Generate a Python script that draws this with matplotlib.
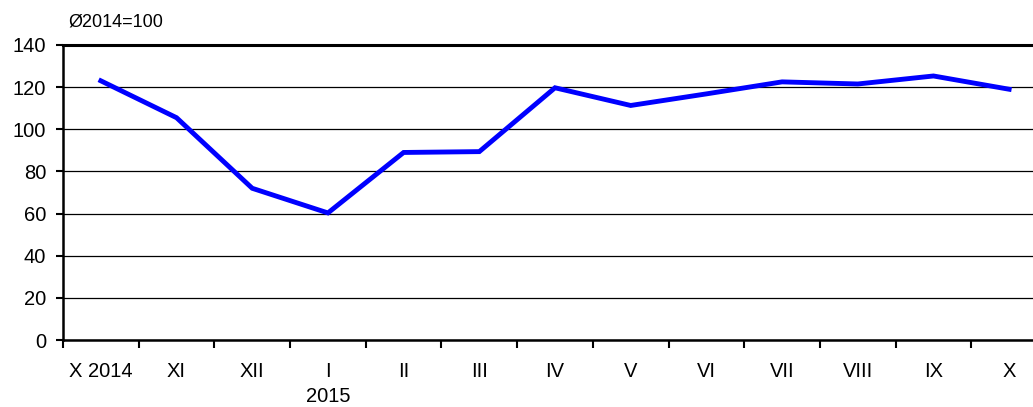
import numpy as np
import matplotlib.pyplot as plt

plt.rcParams['font.family'] = ['Liberation Sans', 'DejaVu Sans']

months = ['X 2014', 'XI', 'XII', 'I\n2015', 'II', 'III', 'IV', 'V', 'VI', 'VII', 'VIII', 'IX', 'X']
values = [123, 105.5, 72, 60.3, 89, 89.4, 119.7, 111.3, 116.8, 122.5, 121.5, 125.3, 119]

fig = plt.figure(figsize=(10.33, 4.07), dpi=100)
# axes run past the right edge of the picture, as in the original
ax = fig.add_axes([63 / 1033, 67 / 407, 984 / 1033, 295 / 407])

x = np.arange(len(months))
ax.plot(x, values, color='#0000ff', lw=3.5, solid_joinstyle='miter', zorder=3)

ax.set_xlim(-0.5, len(months) - 0.5)
ax.set_ylim(0, 140)
ax.set_yticks(range(0, 141, 20))
ax.set_xticks(x)
ax.set_xticklabels(months, fontsize=14.5, linespacing=1.4)
ax.set_xticks(np.arange(-0.5, len(months)), minor=True)
ax.tick_params(axis='x', which='major', length=0, pad=16)
ax.tick_params(axis='x', which='minor', length=6, width=1.5, direction='out')
ax.tick_params(axis='y', length=5, width=1.5, direction='out', labelsize=14.5, pad=7)

ax.grid(axis='y', color='black', lw=0.9)
for s in ['left', 'bottom']:
    ax.spines[s].set_linewidth(1.8)
ax.spines['top'].set_linewidth(2.2)
ax.spines['right'].set_visible(False)

fig.text(68 / 1033, 1 - 22 / 407, 'Ø2014=100', fontsize=13, va='center', ha='left')

fig.savefig('out.png', dpi=100)
